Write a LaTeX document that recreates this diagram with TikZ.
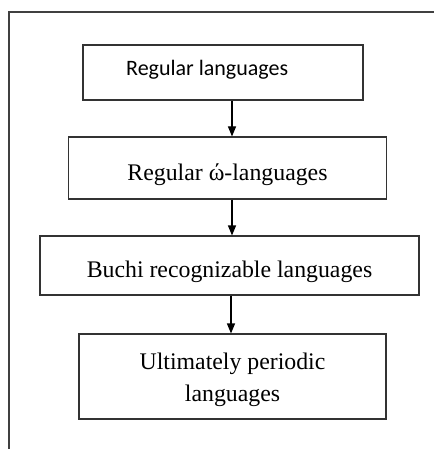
\documentclass[tikz,border=0pt]{standalone}
\usepackage{fontspec}
\setmainfont{Liberation Serif}
\newfontfamily\calib{Carlito}
\usetikzlibrary{arrows.meta}
\begin{document}
\begin{tikzpicture}[x=1pt,y=-1pt,
  boxst/.style={draw=black!80,line width=1.1pt,inner sep=0pt},
  serift/.style={font=\fontsize{23.8}{32}\selectfont},
  conn/.style={draw=black,line width=1.1pt,-{Triangle[length=10pt,width=8pt]}}]
\useasboundingbox (0,0) rectangle (433,449);
\draw[black!75,line width=1.1pt] (9,449) -- (9,12) -- (434,12);
\node[boxst,minimum width=280pt,minimum height=55pt] (b1) at (223,72.5) {};
\node[font=\calib\fontsize{22}{26}\selectfont,anchor=base west,inner sep=0pt] (t1) at (126,76) {Regular languages};
\node[boxst,minimum width=318pt,minimum height=62pt,serift,text height=24pt,text depth=0pt] (b2) at (227.5,168) {Regular ώ-languages};
\node[boxst,minimum width=379pt,minimum height=59pt,serift,text height=24pt,text depth=0pt] (b3) at (229.5,265.5) {Buchi recognizable languages};
\node[boxst,minimum width=307pt,minimum height=85pt] (b4) at (232.5,376.5) {};
\node[serift,align=center,inner sep=0pt] (t4) at (232.5,380) {Ultimately periodic\\languages};
\draw[conn] (b1.south -| 232,0) -- (b2.north -| 232,0);
\draw[conn] (b2.south -| 232,0) -- (b3.north -| 232,0);
\draw[conn] (b3.south -| 231,0) -- (b4.north -| 231,0);
\end{tikzpicture}
\end{document}
